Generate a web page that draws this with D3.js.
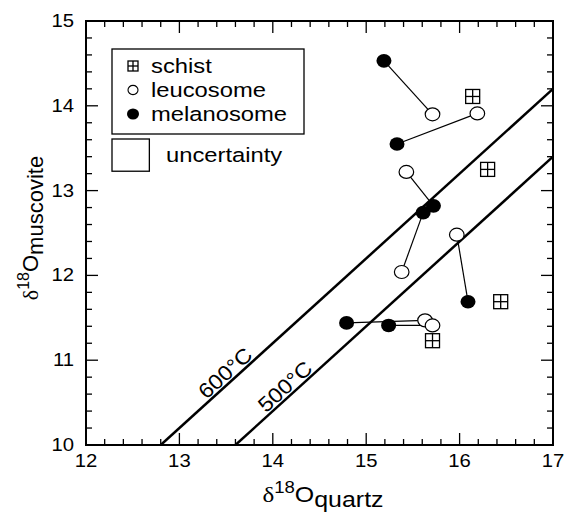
<!DOCTYPE html>
<html><head><meta charset="utf-8">
<script src="https://cdn.jsdelivr.net/npm/d3@7"></script>
<style>body{margin:0;background:#fff}svg{display:block}text{font-family:"Liberation Sans",Arial,Helvetica,sans-serif}</style>
</head><body><svg id="c" width="565" height="516"></svg>
<script>
// data
const schist = [[16.14,14.11],[16.30,13.25],[16.44,11.69],[15.71,11.23]];
const leucosome = [[15.71,13.90],[16.19,13.91],[15.43,13.22],[15.38,12.04],[15.97,12.48],[15.63,11.47],[15.71,11.41]];
const melanosome = [[15.19,14.53],[15.33,13.55],[15.72,12.82],[15.61,12.74],[16.09,11.69],[14.79,11.44],[15.24,11.41]];
// pairs: [melanosome index, leucosome index]
const pairs = [[0,0],[1,1],[2,2],[3,3],[4,4],[5,5],[6,6]];
const isotherms = [{label:"600°C", offset:2.8, lx:13.49, ly:10.85},{label:"500°C", offset:3.6, lx:14.13, ly:10.69}];
const xTicks = [12,13,14,15,16,17];
const yTicks = [10,11,12,13,14,15];
const legendItems = ["schist","leucosome","melanosome"];
const uncertainty = [0.4,0.38];

const svg = d3.select("#c");
const L=86,R=553,T=21,B=445;
const SX=1.16; // horizontal text stretch
const x = d3.scaleLinear().domain([12,17]).range([L,R]);
const y = d3.scaleLinear().domain([10,15]).range([B,T]);

const g = svg.append("g");
svg.append("clipPath").attr("id","clip").append("rect").attr("x",L).attr("y",T).attr("width",R-L).attr("height",B-T);

function htext(sel,px,py,size,anchor,str){
  return sel.append("text").attr("transform",`translate(${px},${py}) scale(${SX},1)`).attr("text-anchor",anchor).attr("font-size",size).text(str);
}

// ticks
const steps = d3.range(0,26).map(i=>i*0.2);
steps.forEach(i=>{
  const maj = Math.abs(i-Math.round(i))<1e-6;
  const len = maj?12:6;
  const px = x(12+i), py = y(10+i);
  g.append("line").attr("x1",px).attr("x2",px).attr("y1",B).attr("y2",B-len).attr("stroke","#000").attr("stroke-width",1.3);
  g.append("line").attr("x1",px).attr("x2",px).attr("y1",T).attr("y2",T+len).attr("stroke","#000").attr("stroke-width",1.3);
  g.append("line").attr("y1",py).attr("y2",py).attr("x1",L).attr("x2",L+len).attr("stroke","#000").attr("stroke-width",1.3);
  g.append("line").attr("y1",py).attr("y2",py).attr("x1",R).attr("x2",R-len).attr("stroke","#000").attr("stroke-width",1.3);
});
g.append("rect").attr("x",L).attr("y",T).attr("width",R-L).attr("height",B-T).attr("fill","none").attr("stroke","#000").attr("stroke-width",2);

xTicks.forEach(v=>htext(g,x(v),B+22,17.5,"middle",v));
yTicks.forEach(v=>htext(g,L-12,y(v)+6,17.5,"end",v));

// isotherms
const ig = g.append("g").attr("clip-path","url(#clip)");
isotherms.forEach(d=>{
  ig.append("line").attr("x1",x(10+d.offset)).attr("y1",y(10)).attr("x2",x(17)).attr("y2",y(17-d.offset)).attr("stroke","#000").attr("stroke-width",2.5);
});
const ang = -Math.atan((y(10)-y(11))/(x(13)-x(12)))*180/Math.PI;
isotherms.forEach(d=>{
  g.append("text").attr("transform",`translate(${x(d.lx)},${y(d.ly)}) rotate(${ang}) scale(1.1,1)`).attr("text-anchor","middle").attr("dy","0.35em").attr("font-size",21).text(d.label);
});

// tie lines
pairs.forEach(([m,l])=>{
  g.append("line").attr("x1",x(melanosome[m][0])).attr("y1",y(melanosome[m][1])).attr("x2",x(leucosome[l][0])).attr("y2",y(leucosome[l][1])).attr("stroke","#000").attr("stroke-width",1.2);
});

function schistMark(sel,cx,cy,s){
  sel.append("rect").attr("x",cx-s/2).attr("y",cy-s/2).attr("width",s).attr("height",s).attr("fill","#fff").attr("stroke","#000").attr("stroke-width",1.3);
  sel.append("line").attr("x1",cx).attr("x2",cx).attr("y1",cy-s/2).attr("y2",cy+s/2).attr("stroke","#000").attr("stroke-width",1.3);
  sel.append("line").attr("y1",cy).attr("y2",cy).attr("x1",cx-s/2).attr("x2",cx+s/2).attr("stroke","#000").attr("stroke-width",1.3);
}
schist.forEach(d=>schistMark(g,x(d[0]),y(d[1]),14));
leucosome.forEach(d=>g.append("ellipse").attr("cx",x(d[0])).attr("cy",y(d[1])).attr("rx",7.3).attr("ry",6.5).attr("fill","#fff").attr("stroke","#000").attr("stroke-width",1.2));
melanosome.forEach(d=>g.append("ellipse").attr("cx",x(d[0])).attr("cy",y(d[1])).attr("rx",7.5).attr("ry",6.8).attr("fill","#000"));

// legend
const lg = g.append("g");
lg.append("rect").attr("x",112).attr("y",49).attr("width",192).attr("height",85).attr("fill","#fff").attr("stroke","#000").attr("stroke-width",1.3);
schistMark(lg,133,66,10);
lg.append("ellipse").attr("cx",133).attr("cy",90).attr("rx",5).attr("ry",4.6).attr("fill","#fff").attr("stroke","#000").attr("stroke-width",1.1);
lg.append("ellipse").attr("cx",133).attr("cy",114).attr("rx",6).attr("ry",5.6).attr("fill","#000");
legendItems.forEach((t,i)=>htext(lg,151,73+i*24,20.5,"start",t));
const uw = x(12+uncertainty[0])-x(12), uh = y(10)-y(10+uncertainty[1]);
lg.append("rect").attr("x",112).attr("y",139).attr("width",uw).attr("height",uh).attr("fill","#fff").attr("stroke","#000").attr("stroke-width",1.3);
htext(lg,166,162,20.5,"start","uncertainty");

// axis titles
const xt = g.append("text").attr("transform",`translate(323,502) scale(${SX},1)`).attr("text-anchor","middle").attr("font-size",21.5);
xt.append("tspan").attr("font-family","'Liberation Serif','Times New Roman',serif").text("δ");
xt.append("tspan").attr("dy",-9).attr("font-size",16).text("18");
xt.append("tspan").attr("dy",9).text("O");
xt.append("tspan").attr("dy",5).text("quartz");

const yt = g.append("text").attr("transform","translate(38,228) rotate(-90)").attr("text-anchor","middle").attr("font-size",22);
yt.append("tspan").attr("font-family","'Liberation Serif','Times New Roman',serif").text("δ");
yt.append("tspan").attr("dy",-9).attr("font-size",16).text("18");
yt.append("tspan").attr("dy",9).text("O");
yt.append("tspan").attr("dy",5).text("muscovite");
</script></body></html>
